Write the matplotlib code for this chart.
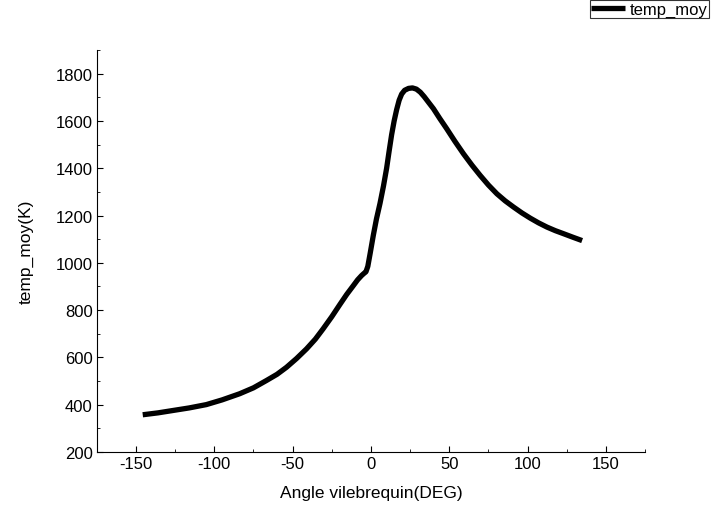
import numpy as np
import matplotlib.pyplot as plt
from matplotlib.ticker import MultipleLocator

plt.rcParams['font.family'] = ['Liberation Sans', 'DejaVu Sans']
plt.rcParams['axes.unicode_minus'] = False

# crank angle (deg) and mean temperature (K)
angle = [-145.7, -136.0, -126.5, -116.0, -105.1, -95.0, -83.8, -75.0, -66.7,
         -60.0, -53.9, -47.5, -41.1, -35.5, -30.5, -25.0, -19.8, -15.5, -11.3,
         -8.5, -6.0, -4.5, -3.2, -2.0, -0.5, 1.5, 3.5, 5.8, 8.0, 10.0, 11.5,
         13.2, 14.8, 16.4, 18.0, 19.6, 21.5, 24.0, 26.5, 29.0, 31.5, 34.0,
         37.0, 39.9, 44.0, 48.4, 53.5, 59.1, 64.5, 69.7, 75.0, 80.4, 85.7,
         91.0, 96.4, 101.7, 107.0, 112.4, 117.7, 123.0, 129.0, 134.8]
temp_moy = [357, 365, 375, 386, 400, 420, 446, 471, 502,
            528, 558, 595, 636, 677, 721, 772, 824, 866, 903,
            928, 946, 955, 962, 985, 1040, 1116, 1185, 1252, 1325, 1400, 1468,
            1542, 1600, 1648, 1688, 1714, 1730, 1738, 1740, 1735, 1722, 1703,
            1677, 1652, 1610, 1567, 1515, 1461, 1413, 1370, 1329, 1292, 1262,
            1236, 1211, 1189, 1169, 1151, 1136, 1123, 1108, 1094]

fig = plt.figure(figsize=(7.12, 5.06), dpi=100)
ax = fig.add_axes([0.136, 0.105, 0.77, 0.794])

line, = ax.plot(angle, temp_moy, color='black', lw=3.8, solid_joinstyle='round',
                solid_capstyle='butt', label='temp_moy')

ax.set_xlim(-175, 175)
ax.set_ylim(200, 1900)
ax.xaxis.set_major_locator(MultipleLocator(50))
ax.xaxis.set_minor_locator(MultipleLocator(25))
ax.yaxis.set_major_locator(MultipleLocator(200))
ax.yaxis.set_minor_locator(MultipleLocator(100))
ax.tick_params(which='major', direction='in', length=4, labelsize=12, pad=3)
ax.tick_params(which='minor', direction='in', length=2)

for s in ['top', 'right']:
    ax.spines[s].set_visible(False)

ax.set_xlabel('Angle vilebrequin(DEG)', fontsize=12.5, labelpad=10)
ax.set_ylabel('temp_moy(K)', fontsize=12.5, labelpad=16)

leg = fig.legend(handles=[line], loc='upper right', bbox_to_anchor=(0.996, 0.998),
                 fontsize=12, frameon=True, fancybox=False, handlelength=2.0,
                 borderpad=0.1, handletextpad=0.3, borderaxespad=0)
leg.get_frame().set_edgecolor('black')
leg.get_frame().set_linewidth(0.8)

fig.savefig('out.png', dpi=100)
